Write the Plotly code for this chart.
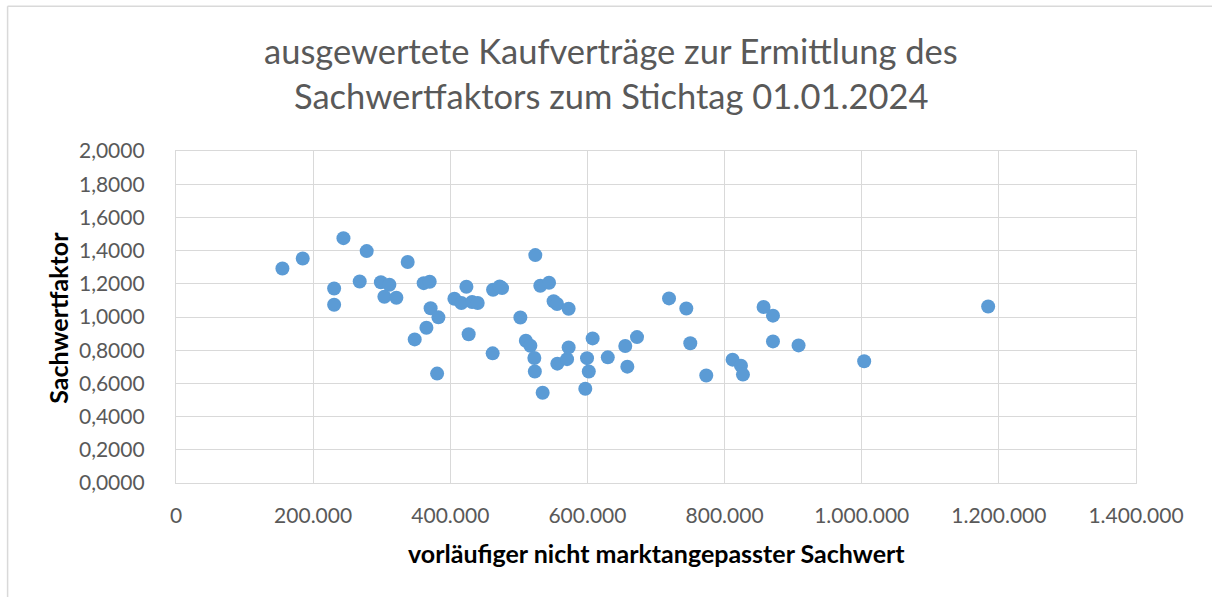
import plotly.graph_objects as go

# Data
sachwert = [
    155200, 184800, 230600, 230600, 244200, 267900, 278100, 298800, 311200, 303900,
    321400, 337900, 361200, 370000, 371300, 382700, 365200, 348100, 380800, 406000,
    416200, 423500, 431800, 440000, 426800, 462400, 472000, 475500, 461800, 502200,
    510200, 516800, 522600, 523300, 534700, 524000, 531300, 544000, 550700, 555700,
    572600, 556100, 570300, 572600, 599400, 602000, 596900, 607600, 629700, 655200,
    658200, 672300, 719000, 744200, 750000, 773300, 811700, 823900, 826800, 856900,
    870600, 870600, 907900, 1003600, 1184400,
]
sachwertfaktor = [
    1.292, 1.352, 1.172, 1.074, 1.475, 1.214, 1.397, 1.209, 1.194, 1.122,
    1.116, 1.331, 1.204, 1.212, 1.053, 0.998, 0.935, 0.865, 0.659, 1.110,
    1.084, 1.182, 1.090, 1.084, 0.896, 1.164, 1.184, 1.174, 0.781, 0.997,
    0.857, 0.827, 0.753, 0.672, 0.544, 1.373, 1.188, 1.206, 1.095, 1.078,
    1.050, 0.719, 0.746, 0.817, 0.752, 0.672, 0.568, 0.871, 0.757, 0.825,
    0.701, 0.879, 1.112, 1.051, 0.842, 0.648, 0.743, 0.707, 0.653, 1.060,
    1.008, 0.853, 0.829, 0.733, 1.063,
]

title_line1 = "ausgewertete Kaufverträge zur Ermittlung des"
title_line2 = "Sachwertfaktors zum Stichtag 01.01.2024"
x_title = "vorläufiger nicht marktangepasster Sachwert"
y_title = "Sachwertfaktor"

W, H = 1212, 597
L, R, T, B = 175.5, 1136, 151, 483.5
pw, ph = R - L, B - T

def px_x(px):
    return (px - L) / pw

def px_y(py):
    return (B - py) / ph

FONT = "Lato"
GRID = "#D9D9D9"
TXT = "#595959"

fig = go.Figure()
fig.add_trace(go.Scatter(
    x=sachwert, y=sachwertfaktor, mode="markers",
    marker=dict(size=14, color="#5B9BD5", line=dict(width=0)),
    showlegend=False, hoverinfo="x+y",
))

fig.update_layout(
    width=W, height=H,
    margin=dict(l=L, r=W - R, t=T, b=H - B, pad=0),
    paper_bgcolor="white", plot_bgcolor="white",
    separators=",.",
    font=dict(family=FONT, color=TXT, size=21),
    showlegend=False,
)
fig.update_xaxes(
    range=[0, 1400000], dtick=200000, tick0=0, tickformat=",.0f",
    showgrid=True, gridcolor=GRID, gridwidth=1.3,
    showline=True, linecolor=GRID, linewidth=1.3, mirror=True,
    zeroline=False, ticks="", ticklabelstandoff=14,
    tickfont=dict(family=FONT, size=21, color=TXT),
)
fig.update_yaxes(
    range=[0, 2], dtick=0.2, tick0=0, tickformat=".4f",
    showgrid=True, gridcolor=GRID, gridwidth=1.3,
    showline=True, linecolor=GRID, linewidth=1.3, mirror=True,
    zeroline=False, ticks="", ticklabelstandoff=26,
    tickfont=dict(family=FONT, size=21, color=TXT),
)

# Title lines
fig.add_annotation(text=title_line1, xref="paper", yref="paper",
                   x=px_x(611), y=px_y(50), showarrow=False,
                   xanchor="center", yanchor="middle",
                   font=dict(family=FONT, size=34.5, color=TXT))
fig.add_annotation(text=title_line2, xref="paper", yref="paper",
                   x=px_x(611), y=px_y(95), showarrow=False,
                   xanchor="center", yanchor="middle",
                   font=dict(family=FONT, size=34.5, color=TXT))
# Axis titles
fig.add_annotation(text="<b>" + x_title + "</b>", xref="paper", yref="paper",
                   x=px_x(656), y=px_y(554), showarrow=False,
                   xanchor="center", yanchor="middle",
                   font=dict(family=FONT, size=25, color="#000000"))
fig.add_annotation(text="<b>" + y_title + "</b>", xref="paper", yref="paper",
                   x=px_x(57.5), y=px_y(318), showarrow=False, textangle=-90,
                   xanchor="center", yanchor="middle",
                   font=dict(family=FONT, size=25, color="#000000"))

# Chart-area border (left and top edges visible)
fig.add_shape(type="line", xref="paper", yref="paper",
              x0=px_x(7), x1=px_x(7), y0=px_y(6), y1=px_y(620),
              line=dict(color=GRID, width=1.5))
fig.add_shape(type="line", xref="paper", yref="paper",
              x0=px_x(7), x1=px_x(1240), y0=px_y(6), y1=px_y(6),
              line=dict(color=GRID, width=1.5))

fig.write_html("out.html", config={"displayModeBar": False},
               post_script="document.body.style.margin='0';")
